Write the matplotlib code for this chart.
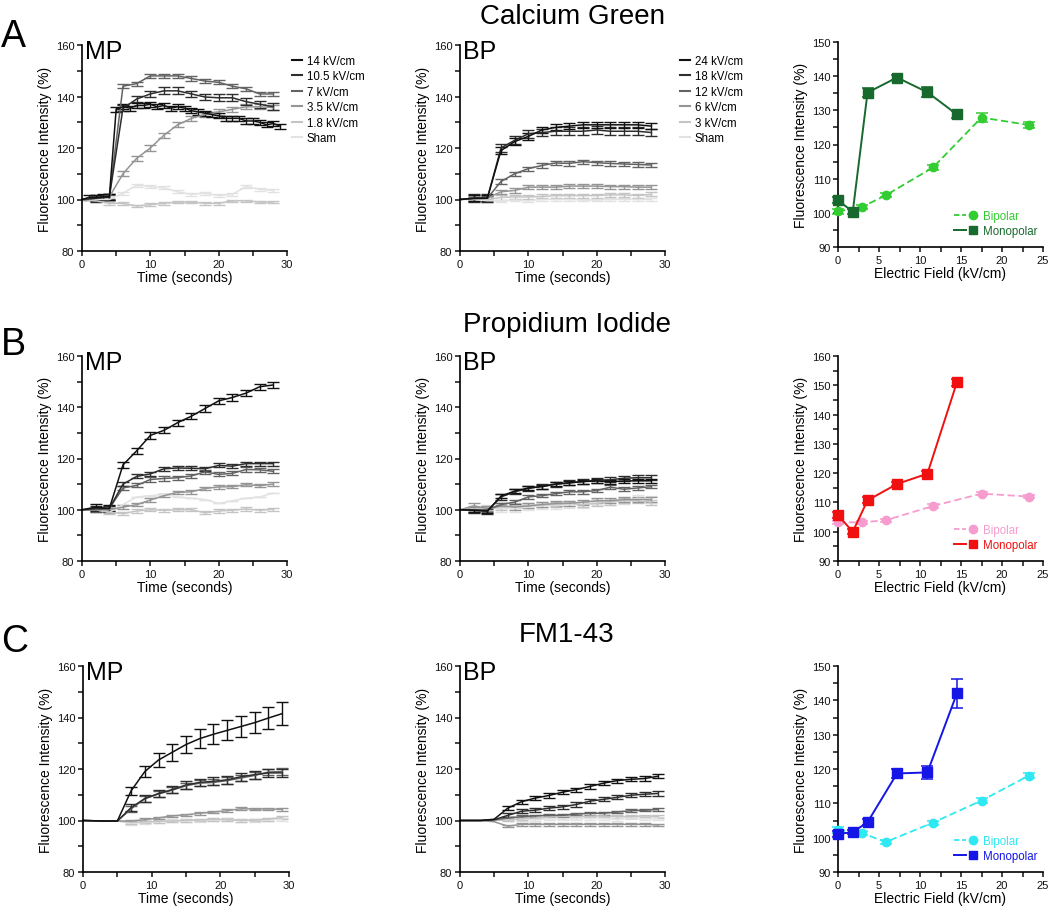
import numpy as np
import matplotlib
matplotlib.use("Agg")
import matplotlib.pyplot as plt
from matplotlib.ticker import MultipleLocator
from matplotlib.lines import Line2D
from matplotlib.legend_handler import HandlerTuple

plt.rcParams['font.family'] = ['Liberation Sans', 'DejaVu Sans']

# ---------------- data ----------------
t_1s = list(range(0, 30))
t_2s = list(range(0, 29, 2))
t_odd = [0, 3] + list(range(5, 30, 2))

mp_labels = ['14 kV/cm', '10.5 kV/cm', '7 kV/cm', '3.5 kV/cm', '1.8 kV/cm', 'Sham']
bp_labels = ['24 kV/cm', '18 kV/cm', '12 kV/cm', '6 kV/cm', '3 kV/cm', 'Sham']
grays = ['#111111', '#2e2e2e', '#636363', '#959595', '#c4c4c4', '#e2e2e2']

# Calcium Green, monopolar
cg_mp_14 = [100, 100.8, 100.7, 101, 101, 135, 136, 135.5, 136.5, 136.5, 137, 136, 136.5, 135.5, 136,
            135.5, 134.5, 134, 133.5, 133, 132.5, 131.5, 131.5, 131.5, 130.5, 130.5, 130, 129, 129.5, 128.5]
cg_mp_10 = [100, 100.5, 101, 135.5, 139, 141, 142.2, 142.2, 141, 139.8, 139.5, 139.5, 138, 137, 136]
cg_mp_7 = [100, 100.5, 101, 144, 145, 148, 148, 148, 147, 146, 145.5, 144, 143, 141, 141]
cg_mp_3 = [100, 100.3, 101, 110, 116, 120, 125, 129, 131.5, 133, 134, 135, 136, 136, 135.7]
cg_mp_1 = [100, 99.5, 98.5, 98.5, 97.5, 98, 98.5, 99, 99, 98.5, 98.5, 99.5, 99.5, 99, 99]
cg_mp_sham = [100, 100, 100, 102.5, 105.5, 105, 104.5, 103, 102, 102.5, 101.5, 102, 105, 104, 103.5]
cg_mp_err = [1.0, 1.3, 0.8, 1.0, 0.5, 0.6]

# Calcium Green, bipolar
cg_bp_24 = [100, 100.5, 100.5, 119, 122.5, 124.5, 127, 128, 128.5, 129, 129, 129, 129, 129, 128.5]
cg_bp_18 = [100, 100.5, 100.5, 120, 123, 125.5, 126, 126.5, 126.5, 126.5, 127, 126.5, 126.5, 126.5, 126]
cg_bp_12 = [100, 100.3, 100.5, 107, 110, 112, 113.2, 114.2, 114, 114.7, 114.3, 114, 113.8, 113.6, 113.4]
cg_bp_6 = [100, 100.3, 100.5, 103, 103.5, 104.8, 104.8, 104.8, 105.2, 105.2, 105.2, 105, 105, 104.8, 104.8]
cg_bp_3 = [100, 100.5, 100, 100.8, 101, 101, 101.2, 101.5, 101.5, 101.5, 101.5, 101.8, 101.8, 101.5, 102]
cg_bp_sham = [100, 100, 99.5, 99.5, 99.8, 99.5, 100, 100, 100, 99.8, 99.8, 100, 100, 100, 100]
cg_bp_err = [1.2, 1.5, 0.8, 0.8, 0.8, 0.5]

# Propidium Iodide, monopolar
pi_mp_14 = [100, 101, 100.5, 117.5, 123, 129, 131, 134, 136.5, 139.5, 142.5, 143.8, 145.5, 148, 148.7]
pi_mp_10 = [100, 100.5, 100.5, 110, 113, 114, 116, 116.3, 116.2, 116, 117.3, 117, 118, 118, 118]
pi_mp_7 = [100, 100, 100.5, 108.5, 109.5, 111.8, 112.2, 112.5, 113.2, 114.8, 113.8, 114.2, 115.7, 115.6, 115]
pi_mp_3 = [100, 100, 100, 101, 102, 103.8, 105.5, 106.8, 107, 108.3, 108.9, 109, 109.8, 109.4, 110]
pi_mp_1 = [100, 100, 99, 98.5, 99.5, 100, 99.8, 100, 100, 98.8, 99.5, 99.8, 100.3, 99.8, 100.2]
pi_mp_sham = [100, 100, 99, 102, 105, 105.5, 106, 105, 104.5, 104, 102.5, 103.5, 104.5, 105, 106.5]
pi_mp_err = [1.2, 0.8, 0.8, 0.7, 0.6, 0]

# Propidium Iodide, bipolar
pi_bp_24 = [100, 99.8, 99.5, 105.3, 107.3, 108.5, 109, 110, 110.5, 111, 111.2, 111, 111.2, 111.3, 111.3]
pi_bp_18 = [100, 99.8, 99.5, 105, 107, 108.3, 109.2, 110, 110.5, 111, 111.5, 111.7, 112.3, 112.5, 112.5]
pi_bp_12 = [100, 100, 100, 102, 103, 105, 105.5, 106.3, 107, 107, 107.5, 108.8, 108, 108.5, 109]
pi_bp_6 = [100, 101.5, 100.5, 101.5, 101, 101.5, 102, 102.5, 102.5, 103, 103.5, 103.5, 104, 104, 104]
pi_bp_3 = [100, 100.5, 100.5, 101, 101.5, 101.5, 102, 102, 102.5, 102, 102.5, 103, 103.5, 103.5, 103]
pi_bp_sham = [100, 100, 100.5, 100.5, 100.5, 101, 101.5, 101.5, 102, 102, 103, 103, 103.5, 104.5, 104]
pi_bp_err = [0.8, 1.0, 0.7, 1.0, 1.0, 1.2]

# FM1-43, monopolar
fm_mp_14 = [100, 99.8, 99.8, 111.5, 119, 123.5, 126.5, 129.5, 131.8, 133.5, 135, 136.5, 138, 139.8, 141.5]
fm_mp_14_err = [0, 0, 0.3, 1.5, 2.2, 2.8, 3.2, 3.4, 3.6, 3.8, 3.9, 4.0, 4.2, 4.3, 4.5]
fm_mp_10 = [100, 99.8, 99.8, 105, 108.5, 110.5, 112, 113.8, 114.8, 115.2, 115.8, 117, 117.8, 118.5, 118.5]
fm_mp_7 = [100, 99.8, 99.8, 104.5, 108.5, 110.3, 111.8, 113.5, 114.5, 114.8, 115.5, 116.5, 117.5, 118.8, 119]
fm_mp_3 = [100, 99.8, 99.8, 99.8, 100.3, 101, 101.8, 102.2, 102.8, 103.3, 103.8, 104.6, 104.4, 104.5, 104.3]
fm_mp_1 = [100, 99.8, 99.8, 99.3, 99.5, 99.6, 99.8, 100, 100.2, 100.4, 100.3, 100, 100.2, 100.5, 101.2]
fm_mp_sham = [100, 99.8, 99.8, 99, 99.2, 99.6, 100, 100, 100, 100.3, 100.5, 100, 100, 100.3, 100.5]
fm_mp_err = [fm_mp_14_err, 1.5, 1.2, 0.5, 0.5, 0.6]

# FM1-43, bipolar
fm_bp_24 = [100, 100, 100.5, 104.8, 107.3, 108.7, 109.7, 111, 112, 113.2, 114.5, 115.5, 116, 116.3, 117.2]
fm_bp_18 = [100, 100, 100.3, 102, 103.6, 104, 104.8, 105.3, 106.2, 107.5, 108.2, 109, 109.8, 110.2, 110.5]
fm_bp_12 = [100, 100, 100.2, 101, 101.5, 101.8, 102, 102, 102.5, 102.8, 102.8, 103.3, 103.8, 104, 104.3]
fm_bp_6 = [100, 100, 99.5, 97.8, 98.5, 98.5, 98.5, 98.5, 98.5, 98.5, 98.5, 98.5, 98.5, 98.5, 98.3]
fm_bp_3 = [100, 100, 100, 100.2, 100.7, 101, 101.3, 101.5, 101.5, 101.7, 101.8, 101.5, 101.5, 101.8, 101.6]
fm_bp_sham = [100, 100, 100, 100.3, 100.5, 100.5, 100.8, 100.6, 100.8, 100.8, 100.8, 100.5, 100.9, 100.6, 100.8]
fm_bp_err = [0.8, 0.8, 0.5, 0.5, 0.5, 0.5]

# dose response vs electric field
field_mono = [0, 1.8, 3.6, 7.2, 10.9, 14.5]
field_bi = [0, 2.9, 5.8, 11.6, 17.5, 23.3]
cg_mono = [103.7, 100.3, 135.2, 139.6, 135.3, 128.8]
cg_mono_err = [0.8, 0.7, 1.2, 0.6, 1.5, 1.0]
cg_bi = [100.4, 101.7, 105.1, 113.3, 127.9, 125.7]
cg_bi_err = [0.8, 0.6, 0.6, 0.8, 1.2, 0.8]
pi_mono = [105.6, 100, 110.7, 116.3, 119.8, 151]
pi_mono_err = [1.0, 0.8, 1.0, 0.8, 0.9, 1.2]
pi_bi = [103.2, 103.2, 103.9, 108.8, 113, 112]
pi_bi_err = [0.6, 0.5, 0.5, 0.6, 0.6, 0.6]
fm_mono = [101.1, 101.6, 104.5, 118.7, 119, 142]
fm_mono_err = [0.8, 0.5, 0.8, 1.3, 2.0, 4.3]
fm_bi = [102.3, 101.4, 98.7, 104.4, 110.8, 118.1]
fm_bi_err = [0.8, 0.5, 0.5, 0.6, 0.7, 0.7]

# ---------------- figure ----------------
W, H = 1050, 912
fig = plt.figure(figsize=(W / 100, H / 100), dpi=100)


def box(x0, y0, x1, y1):
    return [x0 / W, 1 - y1 / H, (x1 - x0) / W, (y1 - y0) / H]


def style(ax, xmax, xmaj, ymin, ymax, xlabel):
    ax.set_xlim(0, xmax)
    ax.set_ylim(ymin, ymax)
    for s in ['top', 'right']:
        ax.spines[s].set_visible(False)
    for s in ['left', 'bottom']:
        ax.spines[s].set_linewidth(1.2)
    ax.xaxis.set_major_locator(MultipleLocator(xmaj))
    ax.xaxis.set_minor_locator(MultipleLocator(xmaj / 2))
    ymaj = 20 if ymin == 80 else 10
    ax.yaxis.set_major_locator(MultipleLocator(ymaj))
    ax.yaxis.set_minor_locator(MultipleLocator(ymaj / 2))
    ax.tick_params(which='both', direction='out', length=3.5, width=1.1,
                   labelsize=8, pad=2, colors='#111111')
    ax.set_xlabel(xlabel, fontsize=10, labelpad=1)
    ax.set_ylabel('Fluorescence Intensity (%)', fontsize=10, labelpad=3)


def time_panel(rect, times, series, errs, tag, skip, labels=None, leg_xy=None):
    ax = fig.add_axes(box(*rect))
    for k in reversed(range(len(series))):
        ax.errorbar(times[k], series[k], yerr=errs[k], color=grays[k], lw=1.1,
                    elinewidth=1, capsize=4.5, capthick=1, errorevery=(skip[k], 1),
                    clip_on=False)
    style(ax, 30, 10, 80, 160, 'Time (seconds)')
    fig.text((rect[0] + 3) / W, 1 - (rect[1] + 13) / H, tag, fontsize=18, va='baseline')
    if labels is not None:
        handles = [Line2D([], [], color=c, lw=1.5) for c in grays]
        fig.legend(handles, labels, loc='upper left',
                   bbox_to_anchor=(leg_xy[0] / W, 1 - leg_xy[1] / H),
                   frameon=False, fontsize=8.3, handlelength=0.9, handletextpad=0.4,
                   borderpad=0, borderaxespad=0, labelspacing=0.3)
    return ax


def field_panel(rect, ymax, mono, mono_err, bi, bi_err, c_mono, c_bi):
    ax = fig.add_axes(box(*rect))
    ax.errorbar(field_bi, bi, yerr=bi_err, color=c_bi, ls=(0, (4, 2)), lw=1.3,
                marker='o', ms=6, elinewidth=1.1, capsize=4, capthick=1.1,
                clip_on=False, zorder=3)
    ax.errorbar(field_mono, mono, yerr=mono_err, color=c_mono, lw=1.4,
                marker='s', ms=6.5, elinewidth=1.1, capsize=4, capthick=1.1,
                clip_on=False, zorder=4)
    style(ax, 25, 5, 90, ymax, 'Electric Field (kV/cm)')
    h_bi = (Line2D([], [], color=c_bi, ls=(0, (3, 1.5)), lw=1.3),
            Line2D([], [], color=c_bi, marker='o', ms=6, ls='none'))
    h_mono = (Line2D([], [], color=c_mono, lw=1.4),
              Line2D([], [], color=c_mono, marker='s', ms=6, ls='none'))
    leg = ax.legend([h_bi, h_mono], ['Bipolar', 'Monopolar'], loc='lower right',
                    bbox_to_anchor=(1.0, 0.02), frameon=False, fontsize=8.3,
                    handlelength=2.2, handletextpad=0.3, borderpad=0,
                    labelspacing=0.3,
                    handler_map={tuple: HandlerTuple(ndivide=None, pad=0.1)})
    for txt, c in zip(leg.get_texts(), [c_bi, c_mono]):
        txt.set_color(c)
    return ax


# row A: Calcium Green
time_panel((82, 46, 287, 252), [t_1s] + [t_2s] * 5,
           [cg_mp_14, cg_mp_10, cg_mp_7, cg_mp_3, cg_mp_1, cg_mp_sham], cg_mp_err,
           'MP', [1] * 6, mp_labels, (292, 56))
time_panel((460, 46, 665, 252), [t_2s] * 6,
           [cg_bp_24, cg_bp_18, cg_bp_12, cg_bp_6, cg_bp_3, cg_bp_sham], cg_bp_err,
           'BP', [1] * 6, bp_labels, (680, 56))
field_panel((838, 43, 1043, 248), 150, cg_mono, cg_mono_err, cg_bi, cg_bi_err,
            '#17692e', '#33cc33')

# row B: Propidium Iodide
time_panel((82, 357, 287, 562), [t_2s] * 6,
           [pi_mp_14, pi_mp_10, pi_mp_7, pi_mp_3, pi_mp_1, pi_mp_sham], pi_mp_err,
           'MP', [1] * 6)
time_panel((460, 357, 665, 562), [t_2s] * 6,
           [pi_bp_24, pi_bp_18, pi_bp_12, pi_bp_6, pi_bp_3, pi_bp_sham], pi_bp_err,
           'BP', [1] * 6)
field_panel((838, 357, 1043, 562), 160, pi_mono, pi_mono_err, pi_bi, pi_bi_err,
            '#f01010', '#f79ccf')

# row C: FM1-43
time_panel((83, 667, 289, 873), [t_odd] * 6,
           [fm_mp_14, fm_mp_10, fm_mp_7, fm_mp_3, fm_mp_1, fm_mp_sham], fm_mp_err,
           'MP', [3] * 6)
time_panel((460, 667, 665, 873), [t_odd] * 6,
           [fm_bp_24, fm_bp_18, fm_bp_12, fm_bp_6, fm_bp_3, fm_bp_sham], fm_bp_err,
           'BP', [3] * 6)
field_panel((838, 667, 1043, 873), 150, fm_mono, fm_mono_err, fm_bi, fm_bi_err,
            '#1515e6', '#2ee8f2')

# titles and panel letters
for txt, x, y in [('Calcium Green', 572, 24), ('Propidium Iodide', 567, 332), ('FM1-43', 567, 642)]:
    fig.text(x / W, 1 - y / H, txt, fontsize=20, ha='center', va='baseline')
for txt, y in [('A', 47), ('B', 355), ('C', 652)]:
    fig.text(1 / W, 1 - y / H, txt, fontsize=27, ha='left', va='baseline')

fig.savefig('out.png', dpi=100, facecolor='white')
